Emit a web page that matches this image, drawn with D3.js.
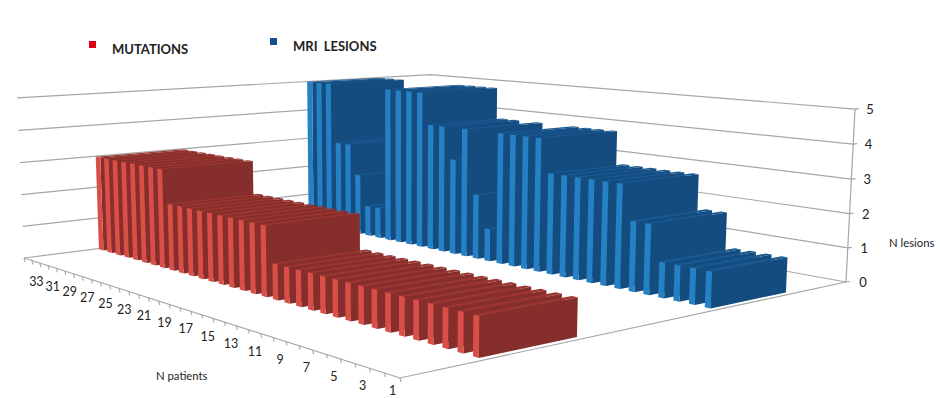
<!DOCTYPE html>
<html>
<head>
<meta charset="utf-8">
<script src="https://cdn.jsdelivr.net/npm/d3@7/dist/d3.min.js"></script>
<style>
  html, body { margin: 0; padding: 0; background: #fff; }
  svg { display: block; }
  text { font-family: Lato, "Open Sans", sans-serif; fill: #222; }
</style>
</head>
<body>
<svg id="chart" width="940" height="398"></svg>
<script>
// Lesion counts and mutation counts per patient, patient 1 first.
const patients = d3.range(1, 35);
const mutations = [1,1,1,1,1,1,1,1,1,1,1,1,1,1,1,1, 2,2,2,2,2,2,2,2,2,2, 3,3,3,3,3,3,3,3];
const mriLesions = [1,1,1,1, 2,2, 3,3,3,3,3,3, 4,4,4,4, 1, 2, 4, 3, 4,4, 5,5,5,5, 1,1, 2, 3,3, 5,5,5];
const seriesNames = ["MUTATIONS", "MRI LESIONS"];
const lesionTicks = [0, 1, 2, 3, 4, 5];
const patientTicks = patients.filter(p => p % 2 === 1);

const palette = {
  MUTATIONS: { front: "#d94f48", side: "#862e2b", top: "#9b3631", key: "#e00012" },
  "MRI LESIONS": { front: "#2580c4", side: "#144c80", top: "#1a5a92", key: "#14508c" }
};

// Floor corners in screen space: near, left, back, right.
const near = [400, 378], left = [24, 258], back = [430, 206.5], right = [846, 282];
// Point where the vertical edges of the box converge, and its strength per full axis height.
const vanish = [399, 8830], lift = 0.02593;

// Floor homography from the unit square to the four corners.
const H = (() => {
  const dx1 = left[0] - back[0], dx2 = right[0] - back[0], sx = near[0] - left[0] + back[0] - right[0];
  const dy1 = left[1] - back[1], dy2 = right[1] - back[1], sy = near[1] - left[1] + back[1] - right[1];
  const den = dx1 * dy2 - dx2 * dy1;
  const g = (sx * dy2 - dx2 * sy) / den, h = (dx1 * sy - sx * dy1) / den;
  return {
    a: left[0] - near[0] + g * left[0], b: right[0] - near[0] + h * right[0], c: near[0],
    d: left[1] - near[1] + g * left[1], e: right[1] - near[1] + h * right[1], f: near[1], g, h
  };
})();

const zScale = d3.scaleLinear().domain([0, 5]).range([0, lift]);
const uScale = d3.scaleBand().domain(patients).range([0, 1]).paddingInner(0.49).paddingOuter(0.245);
const vScale = d3.scaleBand().domain(seriesNames).range([0, 1]).paddingInner(0.61).paddingOuter(0.305);
// Bars get relatively thinner toward the near corner of the floor.
const thickness = d3.scaleLinear().domain([0, 1]).range([0.37, 0.55]);

// Projects a patient position, series position and lesion value to the screen.
function project(u, v, value) {
  const t = zScale(value);
  const W = H.g * u + H.h * v + 1 - t;
  const X = H.a * u + H.b * v + H.c - t * vanish[0];
  const Y = H.d * u + H.e * v + H.f - t * vanish[1];
  return [X / W, Y / W];
}

const svg = d3.select("#chart");
const outline = d3.line();
const grey = "#a6a6a6";

// Wall gridlines running left - back - right, one per lesion level.
const grid = svg.append("g").attr("fill", "none").attr("stroke", grey).attr("stroke-width", 1.2);
grid.selectAll("path").data(lesionTicks).join("path")
  .attr("d", z => outline([project(1, 0, z), project(1, 1, z), project(0, 1, z)]));

// Floor edges and the vertical value axis.
grid.append("path").attr("d", outline([project(1, 0, 0), project(0, 0, 0), project(0, 1, 0)]));
grid.append("path").attr("d", outline([project(0, 1, 0), project(0, 1, 5)]));

// Value axis ticks and labels.
const valueAxis = svg.append("g");
valueAxis.selectAll("line").data(lesionTicks).join("line")
  .attr("x1", z => project(0, 1, z)[0])
  .attr("y1", z => project(0, 1, z)[1])
  .attr("x2", z => project(0, 1, z)[0] + 4)
  .attr("y2", z => project(0, 1, z)[1] - 0.5)
  .attr("stroke", grey).attr("stroke-width", 1.2);
valueAxis.selectAll("text").data(lesionTicks).join("text")
  .attr("x", z => project(0, 1, z)[0] + 17 - z * 0.4)
  .attr("y", z => project(0, 1, z)[1] + 5)
  .attr("text-anchor", "middle").attr("font-size", 13)
  .text(z => z);

// Patient axis ticks at slot boundaries, labels on every other patient.
const step = uScale.step();
const patientAxis = svg.append("g");
patientAxis.selectAll("line").data(d3.range(0, 35)).join("line")
  .attr("x1", i => project(i * step, 0, 0)[0])
  .attr("y1", i => project(i * step, 0, 0)[1])
  .attr("x2", i => project(i * step, 0, 0)[0] + 1)
  .attr("y2", i => project(i * step, 0, 0)[1] + 4)
  .attr("stroke", grey).attr("stroke-width", 1.1);
patientAxis.selectAll("text").data(patientTicks).join("text")
  .attr("x", p => project(uScale(p) + uScale.bandwidth() / 2, 0, 0)[0] + 0.5)
  .attr("y", p => Math.min(project(uScale(p) + uScale.bandwidth() / 2, 0, 0)[1] + 24, 395))
  .attr("text-anchor", "middle").attr("font-size", 12.5)
  .text(p => p);

// Bars are painted back to front: the far series first, high patient numbers first.
function drawSeries(name, values) {
  const colors = palette[name];
  const v0 = vScale(name), v1 = v0 + vScale.bandwidth();
  const rows = patients.map((p, i) => ({ p, value: values[i] })).reverse();
  const bar = svg.append("g").attr("class", "series").selectAll("g").data(rows).join("g");
  const u1 = d => uScale(d.p) + uScale.bandwidth();
  const u0 = d => u1(d) - step * thickness(u1(d));
  bar.append("path").attr("fill", colors.top).attr("d", d => outline([
    project(u0(d), v0, d.value), project(u1(d), v0, d.value),
    project(u1(d), v1, d.value), project(u0(d), v1, d.value)]) + "Z");
  bar.append("path").attr("fill", colors.side).attr("d", d => outline([
    project(u0(d), v0, 0), project(u0(d), v1, 0),
    project(u0(d), v1, d.value), project(u0(d), v0, d.value)]) + "Z");
  bar.append("path").attr("fill", colors.front).attr("d", d => outline([
    project(u1(d), v0, 0), project(u0(d), v0, 0),
    project(u0(d), v0, d.value), project(u1(d), v0, d.value)]) + "Z");
}
drawSeries("MRI LESIONS", mriLesions);
drawSeries("MUTATIONS", mutations);

// Axis titles.
svg.append("text").attr("x", 156).attr("y", 380).attr("font-size", 11.3).text("N patients");
svg.append("text").attr("x", 889).attr("y", 247).attr("font-size", 11.3).text("N lesions");

// Legend.
const legendItems = [
  { name: "MUTATIONS", sx: 89, sy: 41, tx: 112, ty: 54 },
  { name: "MRI LESIONS", sx: 270, sy: 38, tx: 293, ty: 51 }
];
const legend = svg.append("g");
legend.selectAll("rect").data(legendItems).join("rect")
  .attr("x", d => d.sx).attr("y", d => d.sy).attr("width", 7).attr("height", 7)
  .attr("fill", d => palette[d.name].key);
legend.selectAll("text").data(legendItems).join("text")
  .attr("x", d => d.tx).attr("y", d => d.ty)
  .attr("font-size", 13).attr("font-weight", 700).attr("word-spacing", 3)
  .text(d => d.name);
</script>
</body>
</html>
